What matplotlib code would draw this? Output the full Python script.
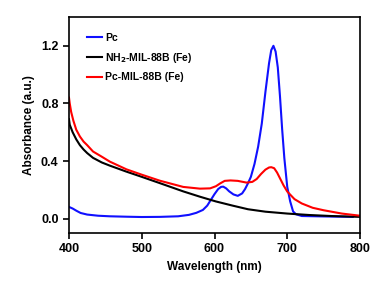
import numpy as np
import matplotlib
matplotlib.use("Agg")
import matplotlib.pyplot as plt

plt.rcParams['font.family'] = ['Liberation Sans', 'DejaVu Sans']
plt.rcParams['font.weight'] = 'bold'

# Pc
wl_pc = [400, 405, 410, 416, 425, 440, 456, 480, 500, 525, 550, 565, 575, 584, 590, 595,
         600, 605, 609, 612, 616, 620, 626, 632, 638, 642, 646, 650, 655, 660, 665, 670,
         675, 678, 681, 684, 687, 690, 693, 696, 700, 704, 708, 712, 720, 750, 790]
ab_pc = [0.081, 0.07, 0.055, 0.039, 0.028, 0.02, 0.016, 0.013, 0.011, 0.012, 0.016, 0.026,
         0.04, 0.06, 0.09, 0.13, 0.17, 0.205, 0.22, 0.222, 0.21, 0.19, 0.168, 0.158, 0.175,
         0.205, 0.245, 0.29, 0.38, 0.5, 0.66, 0.88, 1.08, 1.17, 1.2, 1.16, 1.05, 0.85, 0.62,
         0.42, 0.22, 0.12, 0.05, 0.03, 0.018, 0.015, 0.012]

# NH2-MIL-88B (Fe)
wl_mil = [400, 401, 405, 410, 415, 420, 425, 433, 445, 456, 479, 500, 525, 557, 580, 602,
          625, 646, 670, 700, 730, 760, 800]
ab_mil = [0.69, 0.652, 0.6, 0.55, 0.51, 0.48, 0.455, 0.422, 0.39, 0.368, 0.326, 0.29, 0.246,
          0.189, 0.152, 0.119, 0.09, 0.065, 0.048, 0.035, 0.025, 0.018, 0.012]

# Pc-MIL-88B (Fe)
wl_pcmil = [400, 401, 403, 406, 410, 415, 420, 425, 433, 445, 456, 479, 500, 525, 557, 580,
            594, 602, 608, 614, 622, 632, 644, 652, 658, 664, 670, 675, 678, 682, 686, 690,
            695, 700, 710, 720, 735, 750, 775, 800]
ab_pcmil = [0.84, 0.80, 0.74, 0.68, 0.617, 0.57, 0.535, 0.51, 0.466, 0.43, 0.396, 0.342,
            0.305, 0.263, 0.22, 0.208, 0.21, 0.225, 0.245, 0.262, 0.265, 0.262, 0.25, 0.255,
            0.275, 0.31, 0.34, 0.355, 0.357, 0.35, 0.32, 0.28, 0.23, 0.188, 0.135, 0.105,
            0.075, 0.058, 0.035, 0.02]

fig = plt.figure(figsize=(3.87, 2.83), dpi=100)
ax = fig.add_axes([69/387, 1 - 233/283, 291/387, 216/283])

ax.plot(wl_pc, ab_pc, color='#1010ff', lw=1.5, label='Pc')
ax.plot(wl_mil, ab_mil, color='black', lw=1.5, label='NH$_2$-MIL-88B (Fe)')
ax.plot(wl_pcmil, ab_pcmil, color='#ff0000', lw=1.5, label='Pc-MIL-88B (Fe)')

ax.set_xlim(400, 800)
ax.set_ylim(-0.1, 1.4)
ax.set_xticks([400, 500, 600, 700, 800])
ax.set_yticks([0.0, 0.4, 0.8, 1.2])
ax.set_yticklabels(['0.0', '0.4', '0.8', '1.2'])
ax.tick_params(direction='out', length=4, width=1.2, labelsize=9, top=False, right=False)
for s in ax.spines.values():
    s.set_linewidth(1.2)

ax.set_xlabel('Wavelength (nm)', fontsize=8.5, fontweight='bold')
ax.set_ylabel('Absorbance (a.u.)', fontsize=8.5, fontweight='bold')

leg = ax.legend(loc='upper left', bbox_to_anchor=(0.03, 0.97), frameon=False, fontsize=7.5,
                handlelength=1.4, handletextpad=0.3, labelspacing=0.75)
for t in leg.get_texts():
    t.set_fontweight('bold')

fig.savefig('out.png', dpi=100)
